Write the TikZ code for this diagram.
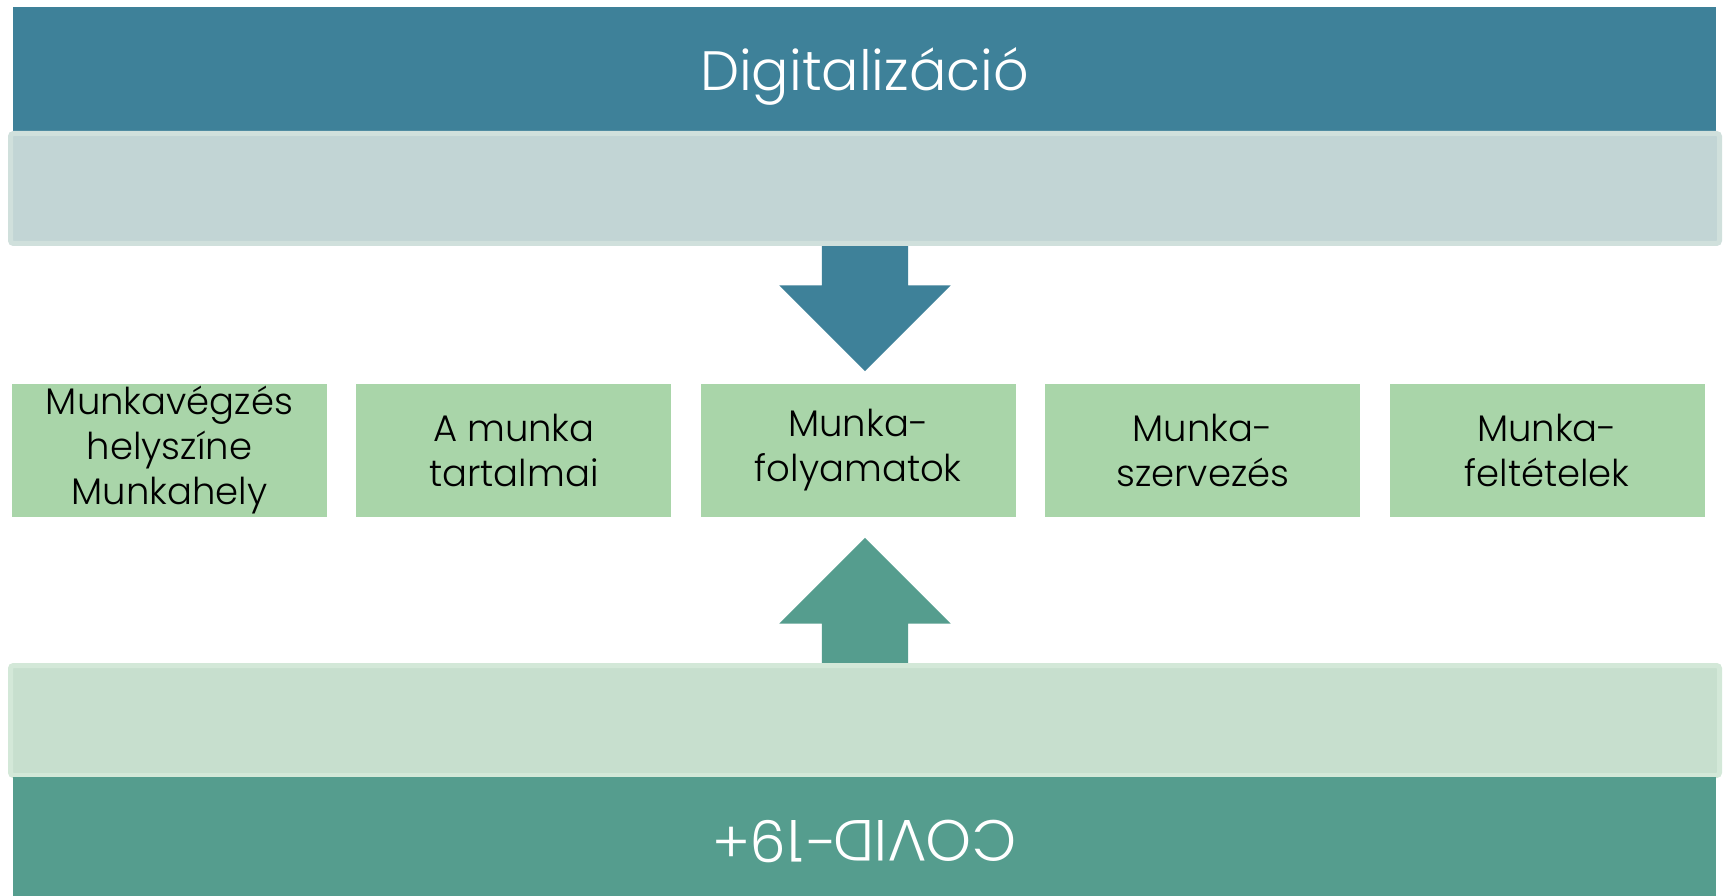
\documentclass[tikz,border=0pt]{standalone}
\usepackage{fontspec}
\setmainfont{Poppins Light}
\usetikzlibrary{shapes.arrows, positioning}
\definecolor{digiblue}{RGB}{62,129,153}
\definecolor{digifill}{RGB}{194,213,213}
\definecolor{digiedge}{RGB}{208,224,220}
\definecolor{topicgreen}{RGB}{169,213,169}
\definecolor{covgreen}{RGB}{85,157,142}
\definecolor{covfill}{RGB}{199,223,206}
\definecolor{covedge}{RGB}{211,232,216}
\tikzstyle{bar} = [rectangle, inner sep=0pt, minimum width=1703pt, text=white, font=\fontsize{55.5}{60}\selectfont]
\tikzstyle{band} = [rectangle, rounded corners=3pt, line width=5pt, minimum width=1709pt, minimum height=110pt]
\tikzstyle{topic} = [rectangle, fill=topicgreen, minimum width=315pt, minimum height=133pt, inner sep=0pt, align=center, font=\fontsize{37}{45}\selectfont]
\tikzstyle{bigarrow} = [single arrow, inner xsep=0pt, inner ysep=43pt, minimum height=125pt, single arrow head extend=42.5pt, single arrow tip angle=90, anchor=tail]

\begin{document}
\begin{tikzpicture}[x=1pt, y=-1pt]
  \useasboundingbox[fill=white] (0,0) rectangle (1725,896);
  \node[bar, fill=digiblue, minimum height=124pt, text depth=0pt] (digital) at (864.5,69) {Digitalizáció};
  \node[band, fill=digifill, draw=digiedge] (digiband) at (865,188.5) {};
  \node[topic] (place) at (169.5,450.5) {Munkavégzés\\helyszíne\\Munkahely};
  \node[topic, right=29pt of place] (content) {A munka\\tartalmai};
  \node[topic, right=29pt of content] (process) {Munka-\\folyamatok};
  \node[topic, right=29pt of process] (organise) {Munka-\\szervezés};
  \node[topic, right=29pt of organise] (conditions) {Munka-\\feltételek};
  \node[band, fill=covfill, draw=covedge] (covband) at (865,720.5) {};
  \node[bar, fill=covgreen, minimum height=119pt, text depth=11pt, rotate=180, font=\fontsize{58}{60}\selectfont] (covid) at (864.5,836.5) {COVID-19+};
  \node[bigarrow, fill=digiblue, rotate=270] (digiarrow) at (digiband.south) {};
  \node[bigarrow, fill=covgreen, rotate=90] (covarrow) at (covband.north) {};
\end{tikzpicture}
\end{document}
